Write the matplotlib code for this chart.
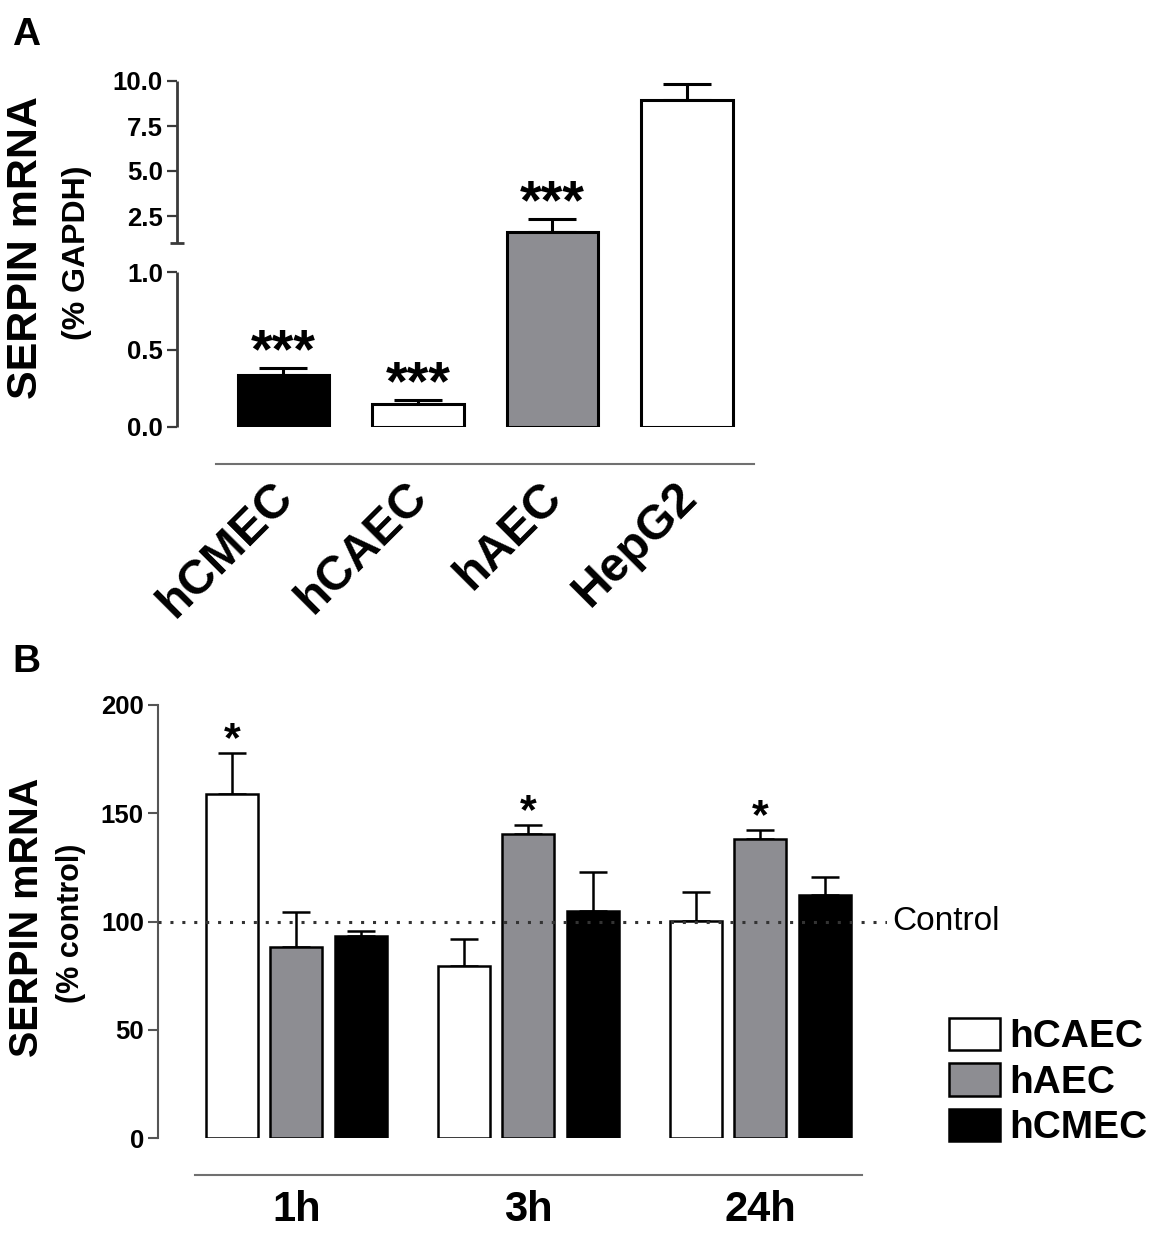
import numpy as np
import matplotlib
matplotlib.use('Agg')
import matplotlib.pyplot as plt
import matplotlib.transforms as mtransforms

plt.rcParams['font.family'] = ['Liberation Sans', 'DejaVu Sans']

# ---------------- data ----------------
# Panel A
cells_a = ['hCMEC', 'hCAEC', 'hAEC', 'HepG2']
mean_a = [0.335, 0.148, 1.61, 8.93]
sem_a = [0.045, 0.026, 0.71, 0.89]
stars_a = ['***', '***', '***', '']
colors_a = ['black', 'white', '#8d8d92', 'white']
yticks_a = [0.0, 0.5, 1.0, 2.5, 5.0, 7.5, 10.0]
yticklabels_a = ['0.0', '0.5', '1.0', '2.5', '5.0', '7.5', '10.0']

# Panel B
times_b = ['1h', '3h', '24h']
series_b = ['hCAEC', 'hAEC', 'hCMEC']
hcaec_b = [158.9, 79.4, 100.4]
hcaec_err = [18.9, 12.5, 13.2]
haec_b = [88.2, 140.4, 138.1]
haec_err = [16.2, 4.2, 4.2]
hcmec_b = [93.4, 104.8, 112.2]
hcmec_err = [2.2, 18.1, 8.5]
stars_b = [['*', '', ''], ['', '*', '*'], ['', '', '']]
colors_b = ['white', '#8d8d92', 'black']
yticks_b = [0, 50, 100, 150, 200]
control_level = 100

W, H = 1168, 1241
fig = plt.figure(figsize=(W / 100, H / 100), dpi=100)


def px_axes(left, top, right, bottom):
    return fig.add_axes([left / W, 1 - bottom / H, (right - left) / W, (bottom - top) / H])


# ---------------- Panel A (broken axis via piecewise scale) ----------------
LOW, GAP, HIGH = 155.0, 29.0, 18.0


def fwd(y):
    y = np.asarray(y, dtype=float)
    return np.where(y <= 1, y * LOW, LOW + GAP + (y - 1) * HIGH)


def inv(t):
    t = np.asarray(t, dtype=float)
    return np.where(t <= LOW, t / LOW,
                    np.where(t < LOW + GAP, 1.0, 1 + (t - LOW - GAP) / HIGH))


axA = px_axes(177, 81, 767.5, 427)
axA.set_yscale('function', functions=(fwd, inv))
axA.set_ylim(0, 10)
axA.set_xlim(-0.79, 3.6)
xa = np.arange(len(cells_a))
axA.errorbar(xa, mean_a, yerr=[np.zeros(len(xa)), sem_a], fmt='none',
             ecolor='black', elinewidth=2.2, capsize=17, capthick=2.2, zorder=1)
axA.bar(xa, mean_a, width=0.68, color=colors_a, edgecolor='black',
        linewidth=2.2, zorder=2)
for i, s in enumerate(stars_a):
    if s:
        axA.annotate(s, xy=(xa[i], mean_a[i] + sem_a[i]), xytext=(0, 0.5),
                     textcoords='offset points', ha='center', va='baseline',
                     fontsize=40, fontweight='bold')

for side in ['top', 'right', 'left']:
    axA.spines[side].set_visible(False)
spA = '#3a3a3a'
trA = mtransforms.blended_transform_factory(axA.transAxes, axA.transData)
axA.plot([0, 0], [0, 1.0], transform=trA, color=spA, lw=2.0, clip_on=False,
         solid_capstyle='butt')
axA.plot([0, 0], [1.0001, 10], transform=trA, color=spA, lw=2.0, clip_on=False,
         solid_capstyle='butt')
axA.plot([0], [1.0001], transform=trA, marker='_', ms=10, mew=2.0, color=spA,
         clip_on=False)
axA.set_yticks(yticks_a, yticklabels_a, fontsize=18.5, fontweight='bold')
axA.yaxis.set_minor_locator(matplotlib.ticker.NullLocator())
axA.tick_params(axis='y', direction='out', length=7.2, width=1.6, color=spA, pad=3)

axA.spines['bottom'].set_position(('outward', 26.6))
axA.spines['bottom'].set_bounds(-0.5, 3.5)
axA.spines['bottom'].set_color('#707070')
axA.spines['bottom'].set_linewidth(1.5)
axA.set_xticks(xa, cells_a, rotation=45, ha='right', rotation_mode='anchor',
               fontsize=34.5, fontweight='bold')
axA.tick_params(axis='x', length=0, pad=10)
shift = mtransforms.ScaledTranslation(-13 / 100, 4 / 100, fig.dpi_scale_trans)
for lbl in axA.get_xticklabels():
    lbl.set_transform(lbl.get_transform() + shift)

fig.text(26 / W, 1 - 248 / H, 'SERPIN mRNA', rotation=90, ha='center', va='center',
         fontsize=31, fontweight='bold')
fig.text(77 / W, 1 - 253 / H, '(% GAPDH)', rotation=90, ha='center', va='center',
         fontsize=23, fontweight='bold')
fig.text(12 / W, 1 - 45 / H, 'A', fontsize=28, fontweight='bold', va='baseline')

# ---------------- Panel B ----------------
axB = px_axes(158, 705, 887, 1138)
axB.set_xlim(-0.597, 2.546)
axB.set_ylim(0, 200)
xb = np.arange(len(times_b))
offsets = [-0.278, 0.0, 0.278]
means_b = [hcaec_b, haec_b, hcmec_b]
errs_b = [hcaec_err, haec_err, hcmec_err]
handles = []
for j in range(3):
    xx = xb + offsets[j]
    axB.errorbar(xx, means_b[j], yerr=[np.zeros(3), errs_b[j]], fmt='none',
                 ecolor='black', elinewidth=1.8, capsize=10, capthick=1.8, zorder=1)
    bc = axB.bar(xx, means_b[j], width=0.224, color=colors_b[j], edgecolor='black',
                 linewidth=1.8, zorder=2, label=series_b[j])
    handles.append(bc)
    for k, s in enumerate(stars_b[j]):
        if s:
            axB.annotate(s, xy=(xx[k], means_b[j][k] + errs_b[j][k]), xytext=(0, 1.5),
                         textcoords='offset points', ha='center', va='baseline',
                         fontsize=31, fontweight='bold')

axB.axhline(control_level, color='#333333', lw=2.2, ls=(0, (1, 2.9)), zorder=3)
trB = mtransforms.blended_transform_factory(axB.transAxes, axB.transData)
axB.annotate('Control', xy=(1, control_level), xycoords=trB, xytext=(4, 0),
             textcoords='offset points', ha='left', va='center', fontsize=24)

for side in ['top', 'right']:
    axB.spines[side].set_visible(False)
spB = '#555555'
axB.spines['left'].set_color(spB)
axB.spines['left'].set_linewidth(1.5)
axB.set_yticks(yticks_b, [str(v) for v in yticks_b], fontsize=18.5, fontweight='bold')
axB.tick_params(axis='y', direction='out', length=7.2, width=1.5, color=spB, pad=3)

axB.spines['bottom'].set_position(('outward', 26.6))
axB.spines['bottom'].set_bounds(-0.4375, 2.44)
axB.spines['bottom'].set_color('#707070')
axB.spines['bottom'].set_linewidth(1.5)
axB.set_xticks(xb, times_b, fontsize=30, fontweight='bold')
axB.tick_params(axis='x', length=0, pad=11)

fig.text(27 / W, 1 - 917 / H, 'SERPIN mRNA', rotation=90, ha='center', va='center',
         fontsize=28.5, fontweight='bold')
fig.text(71 / W, 1 - 923 / H, '(% control)', rotation=90, ha='center', va='center',
         fontsize=22, fontweight='bold')
fig.text(12 / W, 1 - 672 / H, 'B', fontsize=28, fontweight='bold', va='baseline')

fig.legend(handles=handles, labels=series_b, loc='center left',
           bbox_to_anchor=(949 / W, 1 - 1082 / H), frameon=False,
           prop={'size': 28, 'weight': 'bold'}, handlelength=1.3, handleheight=0.9,
           handletextpad=0.25, labelspacing=0.2, borderpad=0, borderaxespad=0)

fig.savefig('out.png', dpi=100)
